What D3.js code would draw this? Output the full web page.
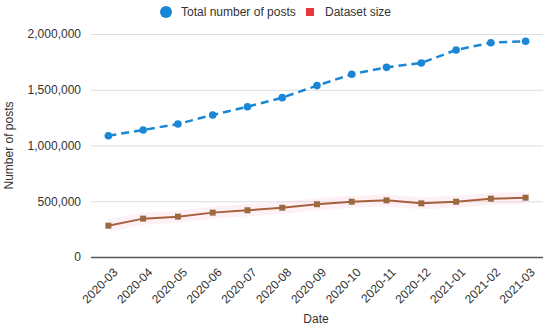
<!DOCTYPE html>
<html><head><meta charset="utf-8">
<script src="https://cdn.jsdelivr.net/npm/d3@7"></script>
<style>body{margin:0;background:#fff}svg{display:block;font-family:"Liberation Sans",Arial,sans-serif}</style>
</head><body><svg id="c" width="550" height="328"></svg>
<script>
const dates = ["2020-03","2020-04","2020-05","2020-06","2020-07","2020-08","2020-09","2020-10","2020-11","2020-12","2021-01","2021-02","2021-03"];
const totalPosts = [1088000,1139000,1193000,1274000,1348000,1429000,1537000,1639000,1701000,1740000,1857000,1922000,1935000];
const datasetSize = [281000,344000,362000,398000,419000,442000,473000,496000,508000,481000,496000,523000,532000];
const yTicks = [0,500000,1000000,1500000,2000000];
const seriesNames = ["Total number of posts","Dataset size"];

const svg = d3.select("#c");
const m = {l:91, r:7, t:34, b:71};
const W = 550, H = 328;
const x = d3.scaleBand().domain(dates).range([m.l, W-m.r]).padding(0);
const cx = d => x(d) + x.bandwidth()/2;
const y = d3.scaleLinear().domain([0,2000000]).range([H-m.b, m.t]);
const fmt = d3.format(",");

// grid
const gy = svg.append("g").attr("transform",`translate(${m.l},0)`)
  .call(d3.axisLeft(y).tickValues(yTicks).tickSize(-(W-m.l-m.r)).tickFormat(fmt).tickPadding(10));
gy.select(".domain").remove();
gy.selectAll(".tick line").attr("stroke",d=>d===0?"#555":"#ddd").attr("stroke-width",d=>d===0?1.5:1);
gy.selectAll(".tick text").attr("fill","#333").style("font-size","12px");

// x axis labels
const gx = svg.append("g").attr("transform",`translate(0,${H-m.b})`)
  .call(d3.axisBottom(x).tickSize(0).tickPadding(0));
gx.select(".domain").remove();
gx.selectAll(".tick text").attr("fill","#333").style("font-size","12px")
  .attr("text-anchor","end").attr("transform","translate(4,10) rotate(-45)").attr("dy","0.71em").attr("dx","0");

// faint pink halo around dataset line
const lineD = d3.line().x((d,i)=>cx(dates[i])).y(d=>y(d));
svg.append("path").attr("d",lineD(datasetSize)).attr("fill","none")
  .attr("stroke","#f9cfe2").attr("stroke-width",12).attr("stroke-opacity",0.3).attr("stroke-linejoin","round");

// dataset line
svg.append("path").attr("d",lineD(datasetSize)).attr("fill","none")
  .attr("stroke","#a8603c").attr("stroke-width",2);
svg.selectAll(".sq").data(datasetSize).enter().append("rect")
  .attr("x",(d,i)=>cx(dates[i])-3).attr("y",d=>y(d)-3).attr("width",6).attr("height",6)
  .attr("fill","#9c6a40");

// total line
svg.append("path").attr("d",lineD(totalPosts)).attr("fill","none")
  .attr("stroke","#1a86d6").attr("stroke-width",2.5).attr("stroke-dasharray","8,5");
svg.selectAll(".pt").data(totalPosts).enter().append("circle")
  .attr("cx",(d,i)=>cx(dates[i])).attr("cy",d=>y(d)).attr("r",3.8).attr("fill","#1a86d6");

// legend
const lg = svg.append("g").style("font-size","12px").attr("fill","#333");
lg.append("circle").attr("cx",166).attr("cy",12).attr("r",6).attr("fill","#1a86d6");
lg.append("text").attr("x",181).attr("y",16).text(seriesNames[0]);
lg.append("rect").attr("x",306).attr("y",8).attr("width",8).attr("height",8).attr("fill","#e8353b");
lg.append("text").attr("x",325).attr("y",16).text(seriesNames[1]);

// axis titles
svg.append("text").attr("transform",`translate(13,${(m.t+H-m.b)/2}) rotate(-90)`)
  .attr("text-anchor","middle").style("font-size","12px").attr("fill","#333").text("Number of posts");
svg.append("text").attr("x",316).attr("y",323).attr("text-anchor","middle")
  .style("font-size","12px").attr("fill","#333").text("Date");
</script></body></html>
